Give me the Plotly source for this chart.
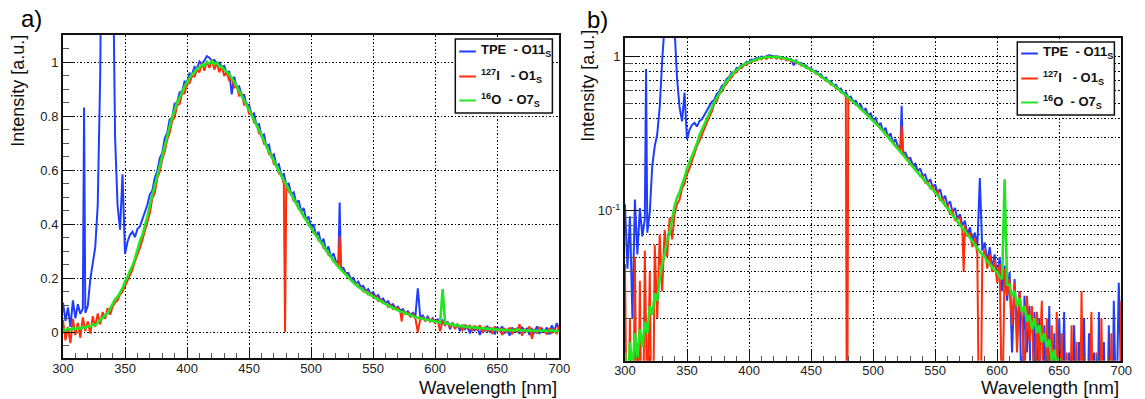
import numpy as np
import plotly.graph_objects as go

# Spectrometer grid (nm) and normalised emission spectra sampled on it
WAVELENGTH = np.arange(300, 701, 2)

TPE_O11 = [
    0.110, 0.042, 0.092, 0.020, 0.118,
    0.052, 0.104, 0.068, 0.088, 0.072,
    0.098, 0.196, 0.262, 0.315, 0.470,
    0.950, 1.900, 2.800, 3.100, 2.600,
    1.500, 0.720, 0.470, 0.380, 0.585,
    0.290, 0.335, 0.360, 0.372, 0.352,
    0.382, 0.392, 0.418, 0.446, 0.472,
    0.510, 0.524, 0.572, 0.596, 0.644,
    0.664, 0.718, 0.738, 0.788, 0.794,
    0.846, 0.850, 0.888, 0.890, 0.928,
    0.926, 0.958, 0.954, 0.982, 0.976,
    1.002, 0.992, 1.006, 1.022, 1.016,
    1.004, 1.008, 0.996, 0.998, 0.982,
    0.986, 0.958, 0.966, 0.880, 0.946,
    0.906, 0.910, 0.876, 0.878, 0.840,
    0.842, 0.804, 0.810, 0.766, 0.770,
    0.726, 0.732, 0.688, 0.694, 0.650,
    0.658, 0.616, 0.622, 0.580, 0.586,
    0.546, 0.550, 0.510, 0.518, 0.478,
    0.488, 0.446, 0.460, 0.416, 0.428,
    0.386, 0.400, 0.356, 0.372, 0.328,
    0.346, 0.300, 0.318, 0.276, 0.292,
    0.262, 0.260, 0.240, 0.238, 0.218,
    0.220, 0.198, 0.202, 0.180, 0.188,
    0.168, 0.172, 0.152, 0.160, 0.142,
    0.148, 0.130, 0.138, 0.118, 0.125,
    0.108, 0.115, 0.098, 0.104, 0.088,
    0.095, 0.080, 0.086, 0.070, 0.078,
    0.064, 0.072, 0.058, 0.163, 0.055,
    0.062, 0.046, 0.058, 0.042, 0.052,
    0.036, 0.050, 0.030, 0.044, 0.026,
    0.040, 0.012, 0.036, 0.016, 0.030,
    0.004, 0.028, 0.012, 0.024, -0.004,
    0.022, 0.008, 0.020, -0.010, 0.018,
    0.004, 0.024, 0.000, 0.016, -0.008,
    0.020, 0.006, 0.022, -0.004, 0.012,
    -0.012, 0.018, 0.004, 0.014, -0.006,
    0.020, 0.002, 0.016, -0.010, 0.012,
    0.000, 0.022, -0.006, 0.014, 0.002,
    0.018, -0.008, 0.026, 0.004, 0.034,
    0.008,
]

I127_O1 = [
    0.045, -0.030, 0.020, -0.040, 0.050,
    -0.010, 0.035, -0.020, 0.055, 0.005,
    0.040, -0.005, 0.060, 0.020, 0.070,
    0.030, 0.075, 0.050, 0.090, 0.065,
    0.095, 0.110, 0.118, 0.140, 0.150,
    0.172, 0.188, 0.212, 0.232, 0.262,
    0.284, 0.312, 0.342, 0.372, 0.408,
    0.440, 0.496, 0.515, 0.570, 0.594,
    0.640, 0.668, 0.712, 0.738, 0.782,
    0.795, 0.840, 0.845, 0.884, 0.884,
    0.918, 0.922, 0.948, 0.946, 0.972,
    0.962, 0.996, 0.968, 1.004, 0.978,
    1.008, 0.972, 0.998, 0.962, 0.984,
    0.948, 0.966, 0.930, 0.942, 0.906,
    0.912, 0.876, 0.882, 0.842, 0.848,
    0.808, 0.810, 0.776, 0.772, 0.736,
    0.730, 0.698, 0.694, 0.660, 0.656,
    0.622, 0.620, 0.588, 0.582, 0.550,
    0.552, 0.520, 0.512, 0.486, 0.480,
    0.456, 0.450, 0.426, 0.420, 0.396,
    0.390, 0.368, 0.362, 0.340, 0.336,
    0.312, 0.308, 0.286, 0.282, 0.262,
    0.260, 0.242, 0.238, 0.222, 0.218,
    0.202, 0.198, 0.185, 0.180, 0.168,
    0.168, 0.152, 0.155, 0.140, 0.145,
    0.130, 0.134, 0.116, 0.122, 0.108,
    0.110, 0.094, 0.102, 0.086, 0.090,
    0.090, 0.074, 0.080, 0.068, 0.072,
    0.058, 0.067, 0.052, 0.001, 0.050,
    0.056, 0.042, 0.052, 0.040, 0.048,
    0.034, 0.045, 0.004, 0.042, 0.028,
    0.036, 0.018, 0.034, 0.012, 0.030,
    0.020, 0.008, 0.028, 0.014, 0.024,
    0.005, 0.022, 0.010, 0.026, -0.002,
    0.020, 0.006, 0.018, -0.006, 0.022,
    0.004, 0.016, -0.010, 0.012, 0.002,
    0.018, -0.008, 0.014, 0.000, 0.030,
    -0.012, 0.010, 0.004, 0.022, -0.024,
    0.012, -0.004, 0.020, 0.002, 0.008,
    -0.008, 0.016, -0.002, 0.010, -0.006,
    0.026,
]

O16_O7 = [
    0.012, 0.006, 0.014, 0.009, 0.016,
    0.011, 0.017, 0.013, 0.019, 0.016,
    0.024, 0.021, 0.029, 0.026, 0.036,
    0.045, 0.052, 0.064, 0.072, 0.088,
    0.107, 0.122, 0.131, 0.148, 0.163,
    0.188, 0.205, 0.228, 0.246, 0.272,
    0.309, 0.337, 0.360, 0.392, 0.428,
    0.470, 0.506, 0.540, 0.578, 0.620,
    0.655, 0.690, 0.730, 0.763, 0.798,
    0.822, 0.852, 0.868, 0.893, 0.910,
    0.925, 0.940, 0.955, 0.962, 0.975,
    0.980, 0.990, 0.986, 1.000, 0.994,
    1.004, 0.992, 0.998, 0.985, 0.982,
    0.972, 0.962, 0.955, 0.940, 0.928,
    0.910, 0.893, 0.880, 0.862, 0.845,
    0.824, 0.805, 0.787, 0.768, 0.748,
    0.728, 0.710, 0.688, 0.672, 0.652,
    0.635, 0.615, 0.597, 0.580, 0.562,
    0.545, 0.526, 0.510, 0.490, 0.476,
    0.460, 0.444, 0.430, 0.414, 0.400,
    0.385, 0.371, 0.358, 0.343, 0.329,
    0.315, 0.302, 0.290, 0.277, 0.264,
    0.253, 0.242, 0.232, 0.221, 0.211,
    0.202, 0.193, 0.184, 0.176, 0.168,
    0.162, 0.155, 0.149, 0.143, 0.137,
    0.132, 0.126, 0.120, 0.114, 0.109,
    0.104, 0.099, 0.094, 0.089, 0.085,
    0.081, 0.077, 0.074, 0.070, 0.066,
    0.063, 0.060, 0.057, 0.054, 0.052,
    0.050, 0.047, 0.045, 0.043, 0.041,
    0.040, 0.037, 0.036, 0.160, 0.033,
    0.033, 0.028, 0.030, 0.024, 0.027,
    0.022, 0.024, 0.019, 0.021, 0.017,
    0.020, 0.016, 0.018, 0.014, 0.016,
    0.013, 0.0145, 0.0105, 0.0125, 0.0095,
    0.011, 0.0085, 0.0105, 0.007, 0.0095,
    0.006, 0.009, 0.0055, 0.0105, 0.007,
    0.005, 0.008, 0.0045, 0.0085, 0.005,
    0.0065, 0.004, 0.0075, 0.005, 0.007,
    0.004, 0.006, 0.0075, 0.0045, 0.006,
    0.005,
]

# Single readings that fall between grid channels (lines and dropouts)
TPE_EXTRA_WL = [317, 523]
TPE_EXTRA = [0.832, 0.480]
I127_EXTRA_WL = [479, 523, 573]
I127_EXTRA = [0.001, 0.355, 0.040]
O16_EXTRA_WL = []
O16_EXTRA = []

NAMES = [
    "<b>TPE\u00a0\u00a0- O11<sub>S</sub></b>",
    "<b><sup>127</sup>I\u00a0\u00a0\u00a0- O1<sub>S</sub></b>",
    "<b><sup>16</sup>O\u00a0\u00a0- O7<sub>S</sub></b>",
]
COLORS = ["#1f3dff", "#ff2d0a", "#22e622"]
WIDTHS = [2.0, 2.0, 2.6]

for arr in (TPE_O11, I127_O1, O16_O7):
    assert len(arr) == len(WAVELENGTH)


def merged(base, extra_wl, extra):
    x = np.concatenate([WAVELENGTH, np.asarray(extra_wl, dtype=float)])
    y = np.concatenate([np.asarray(base, dtype=float), np.asarray(extra, dtype=float)])
    order = np.argsort(x, kind="stable")
    return x[order], y[order]


SERIES = [
    merged(TPE_O11, TPE_EXTRA_WL, TPE_EXTRA),
    merged(I127_O1, I127_EXTRA_WL, I127_EXTRA),
    merged(O16_O7, O16_EXTRA_WL, O16_EXTRA),
]

W, H = 1145, 399
FONT = "Liberation Sans"

fig = go.Figure()
for (x, y), name, color, lw in zip(SERIES, NAMES, COLORS, WIDTHS):
    fig.add_trace(go.Scatter(x=x, y=y, mode="lines", name=name,
                             line=dict(color=color, width=lw),
                             xaxis="x", yaxis="y", showlegend=False))
for (x, y), name, color, lw in zip(SERIES, NAMES, COLORS, WIDTHS):
    # log panel: non-positive readings fall off the bottom of the frame
    fig.add_trace(go.Scatter(x=x, y=np.clip(y, 1e-3, None), mode="lines", name=name,
                             line=dict(color=color, width=lw),
                             xaxis="x2", yaxis="y2", showlegend=False))

DOT = "1.5px,2px"
grid = dict(showgrid=True, gridcolor="#000", griddash=DOT, gridwidth=1.2)
frame = dict(showline=True, linecolor="#111", linewidth=2, mirror=True, zeroline=False)
tickfont = dict(family=FONT, size=13, color="#222")

xcommon = dict(range=[300, 700], tick0=300, dtick=50, ticks="inside", ticklen=10,
               tickwidth=1, tickcolor="#111", tickfont=tickfont, ticklabelstandoff=-3,
               minor=dict(dtick=10, ticks="inside", ticklen=5, tickcolor="#555", showgrid=False),
               **grid, **frame)

LOG_MINOR = [0.02, 0.03, 0.04, 0.05, 0.06, 0.07, 0.08, 0.09,
             0.2, 0.3, 0.4, 0.5, 0.6, 0.7, 0.8, 0.9]

fig.update_layout(
    width=W, height=H, margin=dict(l=0, r=0, t=0, b=0),
    paper_bgcolor="white", plot_bgcolor="white",
    xaxis=dict(domain=[53 / W, 559 / W], anchor="y", **xcommon),
    yaxis=dict(domain=[1 - 358 / H, 1 - 35 / H], anchor="x", range=[-0.095, 1.1],
               tick0=0, dtick=0.2, ticks="inside", ticklen=12, tickwidth=1,
               tickcolor="#111", tickfont=tickfont,
               minor=dict(dtick=0.05, tick0=0, ticks="inside", ticklen=6,
                          tickcolor="#555", showgrid=False),
               **grid, **frame),
    xaxis2=dict(domain=[626 / W, 1132 / W], anchor="y2", **xcommon),
    yaxis2=dict(domain=[1 - 360.7 / H, 1 - 37.7 / H], anchor="x2", type="log",
                range=[np.log10(0.0106), np.log10(1.33)],
                tickmode="array", tickvals=[0.1, 1], ticktext=["10<sup>-1</sup>", "1"],
                ticks="inside", ticklen=14, tickwidth=1, tickcolor="#111",
                tickfont=tickfont,
                minor=dict(tickmode="array", tickvals=LOG_MINOR, ticks="inside",
                           ticklen=8, tickcolor="#555", showgrid=True,
                           gridcolor="#000", griddash=DOT, gridwidth=1.2),
                **grid, **frame),
    showlegend=False,
)

annotations = []
shapes = []


def px(xp):
    return xp / W


def py(yp):
    return 1 - yp / H


# panel letters
annotations.append(dict(text="a)", x=px(8), y=py(18), xanchor="left", yanchor="middle",
                        font=dict(family=FONT, size=24, color="black")))
annotations.append(dict(text="b)", x=px(585), y=py(19), xanchor="left", yanchor="middle",
                        font=dict(family=FONT, size=24, color="black")))

# axis titles (ROOT style: right-aligned x title, top-aligned y title)
for xr, ytop, xl in [(559, 33, 7), (1132, 28, 588)]:
    annotations.append(dict(text="Wavelength [nm]", x=px(xr), y=py(387),
                            xanchor="right", yanchor="middle",
                            font=dict(family=FONT, size=18.5, color="#111")))
    annotations.append(dict(text="Intensity [a.u.]", x=px(xl), y=py(ytop), textangle=-90,
                            xanchor="center", yanchor="top",
                            font=dict(family=FONT, size=18, color="#111")))

# legend boxes
for (x0, y0, x1, y1), rows in [((453, 39, 552, 113), (51.5, 76.5, 100.5)),
                               ((1026, 42, 1125, 115), (53.5, 78.5, 102.5))]:
    shapes.append(dict(type="rect", xref="paper", yref="paper",
                       x0=px(x0), x1=px(x1), y0=py(y1), y1=py(y0),
                       fillcolor="white", line=dict(color="#111", width=1.5), layer="above"))
    for yy, name, color in zip(rows, NAMES, COLORS):
        shapes.append(dict(type="line", xref="paper", yref="paper",
                           x0=px(x0 + 4), x1=px(x0 + 21), y0=py(yy), y1=py(yy),
                           line=dict(color=color, width=2), layer="above"))
        annotations.append(dict(text=name, x=px(x0 + 24), y=py(yy - 1),
                                xanchor="left", yanchor="middle",
                                font=dict(family=FONT, size=13, color="#111")))

for a in annotations:
    a.update(xref="paper", yref="paper", showarrow=False)
fig.update_layout(annotations=annotations, shapes=shapes)

fig.write_html("out.html")
